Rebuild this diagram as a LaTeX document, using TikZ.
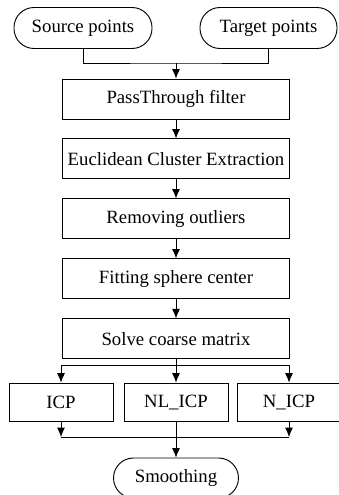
\documentclass[tikz,border=0pt]{standalone}
\usepackage{fontspec}
\setmainfont{Liberation Serif}
\usepackage{tikz}
\usetikzlibrary{arrows.meta,positioning,calc}

\begin{document}
\begin{tikzpicture}[
  x=0.3mm, y=-0.3mm,
  font=\fontsize{16}{19}\selectfont,
  line width=0.8pt,
  >={Latex[length=2.8mm,width=2.4mm]},
  proc/.style={draw, minimum width=68.1mm, minimum height=12mm, align=center, anchor=center, inner sep=0pt},
  small/.style={proc, minimum width=31.2mm, minimum height=11.4mm},
  term/.style={draw, rounded corners=6mm, minimum height=12.3mm, inner sep=0pt, anchor=center}
]
\useasboundingbox (0,0) rectangle (339,495);
% inputs
\node[term, minimum width=41.4mm] (src) at (83,28) {Source points};
\node[term, minimum width=41.1mm] (tgt) at (268.5,28) {Target points};
% main chain
\node[proc] (pass) at (176,99) {PassThrough filter};
\node[proc, below=5.7mm of pass] (clust) {Euclidean Cluster Extraction};
\node[proc, below=5.7mm of clust] (outl) {Removing outliers};
\node[proc, below=5.7mm of outl] (fit) {Fitting sphere center};
\node[proc, below=5.7mm of fit] (solve) {Solve coarse matrix};
% registration
\node[small] (icp) at (61,402) {ICP};
\node[small] (nlicp) at (176,402) {NL\_ICP};
\node[small] (nicp) at (289,402) {N\_ICP};
\node[term, minimum width=37.5mm, minimum height=12mm] (smooth) at (176,478) {Smoothing};
% joins
\coordinate (join) at (176,63);
\draw (src.south) |- (join) -| (tgt.south);
\draw[->] (join) -- (pass.north);
\draw[->] (pass) -- (clust);
\draw[->] (clust) -- (outl);
\draw[->] (outl) -- (fit);
\draw[->] (fit) -- (solve);
\coordinate (split) at (176,365);
\draw (solve.south) -- (split);
\draw[->] (split) -| (icp.north);
\draw[->] (split) -| (nicp.north);
\draw[->] (split) -- (nlicp.north);
\coordinate (mleft) at (61,437);
\coordinate (mright) at (289,437);
\draw[->] (icp.south) -- (mleft);
\draw[->] (nicp.south) -- (mright);
\draw (mleft) -- (mright);
\draw[->] (nlicp.south) -- (smooth.north);
\end{tikzpicture}
\end{document}
